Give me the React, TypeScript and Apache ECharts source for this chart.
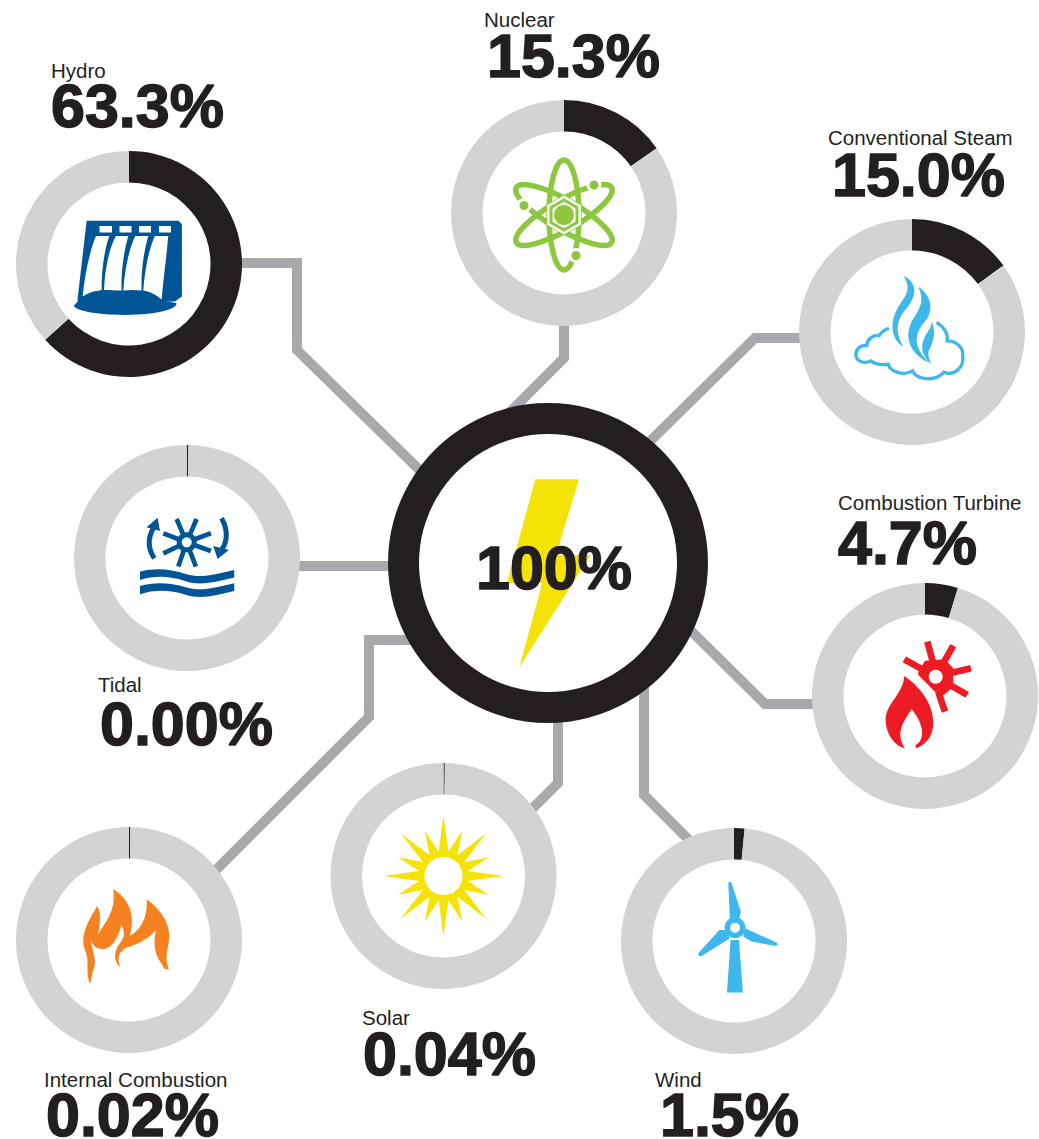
import React, { useEffect, useRef } from "react";
import * as echarts from "echarts";

const categories = ["Hydro", "Nuclear", "Conventional Steam", "Combustion Turbine", "Wind", "Solar", "Internal Combustion", "Tidal"];
const shares = [63.3, 15.3, 15.0, 4.7, 1.5, 0.04, 0.02, 0.0];
const remainders = [36.7, 84.7, 85.0, 95.3, 98.5, 99.96, 99.98, 100.0];
const valueLabels = ["63.3%", "15.3%", "15.0%", "4.7%", "1.5%", "0.04%", "0.02%", "0.00%"];
const totalShare = [100];
const totalLabel = "100%";

const INK = "#231f20";
const RING = "#d1d3d4";
const WIRE = "#a7a9ac";
const NAVY = "#005596";
const GREEN = "#8dc63f";
const SKY = "#3db7ec";
const RED = "#ed1c24";
const ORANGE = "#f58220";
const YELLOW = "#f5e206";

const donutCenters = [[129, 264], [564, 213], [912, 332], [925, 696], [734, 941], [443.5, 876], [129, 940], [187, 558]];
const labelPos = [[51, 70], [484, 19], [828, 137], [838, 502], [655, 1079], [362, 1017], [44, 1079], [98, 684]];
const valuePos = [[51, 106], [487, 56], [832, 175], [838, 543], [660, 1115], [363, 1054], [46, 1115], [100, 724]];

const wires = [
  [[240, 263], [297, 263], [297, 350], [440, 490]],
  [[564, 326], [564, 358], [495, 427]],
  [[802, 338], [755, 338], [635, 456]],
  [[815, 704], [765, 704], [680, 620]],
  [[644, 680], [644, 795], [705, 856]],
  [[558, 715], [558, 783], [520, 821]],
  [[415, 640], [369, 640], [369, 717], [200, 886]],
  [[295, 566], [400, 566]],
];

// icon outlines, drawn in a 3x space and placed with a scale of 1/3
const reg = (name: string, d: string) => echarts.graphic.registerShape(name, echarts.graphic.extendPath(d, {}));
reg("hydroBody", "M80,62 L355,62 L366,72 L366,290 L345,305 L52,305 Z");
reg("hydroFalls", "M108,108 L148,108 C130,160 125,220 125,270 C105,275 85,280 68,290 C75,220 90,150 108,108 Z M168,108 L205,108 C190,160 183,220 185,272 C170,272 150,270 132,270 C135,200 150,140 168,108 Z M226,108 L265,108 C250,160 243,220 245,272 C225,270 210,270 190,272 C195,200 210,140 226,108 Z M285,108 L325,108 C320,170 310,240 305,300 C290,285 270,275 250,272 C255,200 270,140 285,108 Z");
reg("hydroPool", "M42,316 C50,308 62,300 70,290 C85,278 105,272 122,274 C135,272 150,274 160,280 C170,272 190,270 215,280 C225,272 245,270 262,276 C280,282 295,290 310,302 L350,310 C352,325 300,345 195,345 C100,345 40,330 42,316 Z");
reg("steamCloud", "M147,190 C125,198 122,205 118,212 C100,208 82,222 80,242 C60,240 45,255 48,272 C50,290 75,298 92,288 C108,300 130,300 145,298 C150,320 190,335 218,318 C230,345 285,352 312,322 C345,335 375,305 368,270 C372,250 350,228 322,228 C325,205 310,185 290,172");
reg("steamFlames", "M190,32 C240,55 225,100 200,130 C175,160 160,190 190,245 C150,220 150,170 175,125 C200,90 215,70 190,32 Z M235,65 C280,95 280,140 255,170 C225,205 215,245 270,295 C215,270 190,225 215,170 C240,130 255,110 235,65 Z M275,168 C290,200 280,230 270,250 C260,265 268,285 275,297 C245,275 240,245 255,215 C265,195 275,190 275,168 Z");
reg("tidalSpokes", "M155,42 L185,112 L215,42 M115,85 L185,112 L258,85 M115,145 L185,112 L258,138 M160,185 L185,112 L213,185");
reg("tidalArcs", "M88,160 C68,130 68,100 85,70 M290,40 C310,75 308,110 290,135");
reg("tidalHeads", "M65,67 L98,38 L105,78 Z M265,123 L312,135 L278,162 Z");
reg("tidalWaves", "M45,200 C90,190 130,190 185,208 C230,222 280,205 328,195 L328,218 C280,228 230,245 185,230 C130,212 90,212 45,225 Z M45,243 C90,232 130,232 185,248 C230,262 280,245 328,235 L328,258 C280,268 230,285 185,270 C130,254 90,254 45,268 Z");
reg("turbineGear", "M145,125 L165,92 L225,88 L250,115 L250,170 L222,195 L205,195 L145,135 Z");
reg("turbineSpokes", "M172,35 L190,100 M250,47 L220,100 M303,115 L240,130 M292,195 L240,165 M225,245 L205,185 M103,88 L160,120");
reg("turbineFlame", "M103,138 C150,170 190,220 190,280 C190,320 165,345 140,355 C135,350 135,345 145,340 C165,320 160,280 125,238 C100,275 75,310 105,355 C75,350 45,310 47,265 C50,220 100,190 103,138 Z");
reg("windBlades", "M145,38 C150,34 153,36 155,40 L183,125 L178,145 L150,150 Z M195,175 L290,218 C295,224 293,228 287,228 L215,215 L190,200 Z M135,180 L118,180 L55,250 C55,258 60,261 65,258 L150,205 Z M152,210 L177,210 L189,368 L141,368 Z");
reg("fireShape", "M60,312 C45,280 60,240 45,210 C30,170 50,130 82,78 C95,105 90,125 85,165 C100,130 140,100 130,28 C170,50 200,100 180,168 C205,155 235,120 230,58 C275,90 305,135 297,185 C290,225 285,235 297,268 L285,268 C265,235 245,215 258,150 C235,180 195,195 165,205 C145,220 140,235 152,262 C130,245 130,215 150,190 C165,170 165,155 155,135 C140,190 115,210 95,207 C70,205 60,185 62,165 C60,200 85,240 70,270 C65,285 65,300 60,312 Z");

const t = (type: string, ox: number, oy: number, style: any, extra: any = {}) => ({ type, x: ox, y: oy, scaleX: 1 / 3, scaleY: 1 / 3, silent: true, style, ...extra });

const sunPoints = () => {
  const pts: number[][] = [];
  for (let i = 0; i < 32; i++) {
    const a = (i * Math.PI) / 16;
    const r = i % 2 === 1 ? 25 : i % 4 === 0 ? 60 : 49;
    pts.push([443.5 + r * Math.sin(a), 876 - r * Math.cos(a)]);
  }
  return pts;
};
const hexPoints = (cx: number, cy: number, r: number) => {
  const pts: number[][] = [];
  for (let i = 0; i < 6; i++) pts.push([cx + r * Math.sin((i * Math.PI) / 3), cy - r * Math.cos((i * Math.PI) / 3)]);
  return pts;
};

const circle = (cx: number, cy: number, r: number, fill: string) => ({ type: "circle", silent: true, shape: { cx, cy, r }, style: { fill } });
const rect = (x: number, y: number, width: number, height: number, fill: string) => ({ type: "rect", silent: true, shape: { x, y, width, height }, style: { fill } });

const icons: any[] = [
  // Hydro
  t("hydroBody", 60, 200, { fill: NAVY }),
  t("hydroFalls", 60, 200, { fill: "#fff" }),
  rect(99.5, 226, 12.5, 6.5, "#fff"),
  rect(119.5, 226, 12, 6.5, "#fff"),
  rect(139, 226, 12, 6.5, "#fff"),
  rect(159, 226, 12, 6.5, "#fff"),
  t("hydroPool", 60, 200, { fill: NAVY }),
  // Nuclear
  ...[0, Math.PI / 3, -Math.PI / 3].map((rotation) => ({
    type: "ellipse", silent: true, x: 564, y: 215, rotation,
    shape: { cx: 0, cy: 0, rx: 15, ry: 55 }, style: { fill: "none", stroke: GREEN, lineWidth: 5.5 },
  })),
  { type: "polygon", silent: true, shape: { points: hexPoints(564, 215, 19.5) }, style: { fill: "#fff" } },
  { type: "polygon", silent: true, shape: { points: hexPoints(564, 215, 15) }, style: { fill: "#fff", stroke: GREEN, lineWidth: 3 } },
  circle(564, 215, 10, GREEN),
  circle(524, 205.5, 7.5, "#fff"), circle(524, 205.5, 4.5, GREEN),
  circle(594, 185, 7.5, "#fff"), circle(594, 185, 4.5, GREEN),
  circle(576, 255.5, 7.5, "#fff"), circle(576, 255.5, 4.5, GREEN),
  // Conventional steam
  t("steamCloud", 840, 265, { fill: "#fff", stroke: SKY, lineWidth: 10 }),
  t("steamFlames", 840, 265, { fill: SKY }),
  // Tidal
  t("tidalSpokes", 125, 505, { fill: "none", stroke: NAVY, lineWidth: 14 }),
  circle(186.7, 542.3, 10, NAVY),
  circle(186.7, 542.3, 5, "#fff"),
  t("tidalArcs", 125, 505, { fill: "none", stroke: NAVY, lineWidth: 15 }),
  t("tidalHeads", 125, 505, { fill: NAVY }),
  t("tidalWaves", 125, 505, { fill: NAVY }),
  // Combustion turbine
  t("turbineSpokes", 870, 630, { fill: "none", stroke: RED, lineWidth: 20 }),
  t("turbineGear", 870, 630, { fill: RED }),
  circle(935.7, 676.7, 7, "#fff"),
  t("turbineFlame", 870, 630, { fill: RED }),
  // Wind
  t("windBlades", 680, 870, { fill: SKY }),
  circle(735, 927.7, 10.5, SKY),
  circle(735, 927.7, 5, "#fff"),
  // Solar
  { type: "polygon", silent: true, shape: { points: sunPoints() }, style: { fill: YELLOW } },
  circle(443.5, 876, 19, "#fff"),
  // Internal combustion
  t("fireShape", 70, 880, { fill: ORANGE }),
  // Centre bolt
  { type: "polygon", silent: true, shape: { points: [[535.3, 479.3], [579, 479.3], [556, 555], [590.7, 555], [519.3, 667.3], [542.3, 583], [507, 583]] }, style: { fill: YELLOW } },
];

const LABEL_FONT = '300 20.5px "Liberation Sans"';
const VALUE_FONT = 'bold 61px "Liberation Sans"';
const valueText = (text: string, x: number, y: number) => ({
  type: "text", silent: true, x, y,
  style: { text, font: VALUE_FONT, fill: INK, stroke: INK, lineWidth: 1.5, align: "left", verticalAlign: "middle" },
});
const texts: any[] = [
  ...categories.map((c, i) => ({
    type: "text", silent: true, x: labelPos[i][0], y: labelPos[i][1],
    style: { text: c, font: LABEL_FONT, fill: INK, align: "left", verticalAlign: "middle" },
  })),
  ...valueLabels.map((v, i) => valueText(v, valuePos[i][0], valuePos[i][1])),
  valueText(totalLabel, 476, 568),
];

export default function App() {
  const ref = useRef<HTMLDivElement>(null);
  useEffect(() => {
    document.body.style.margin = "0";
    const chart = echarts.init(ref.current!, undefined, { renderer: "svg" });
    const pies = categories.map((name, i) => ({
      type: "pie", name, z: 2, silent: true, animation: false,
      center: donutCenters[i], radius: [81.5, 113], startAngle: 90, clockwise: true,
      minAngle: 0.7, avoidLabelOverlap: false, label: { show: false }, labelLine: { show: false },
      data: [
        { name, value: shares[i], itemStyle: { color: INK } },
        { name: "Other", value: remainders[i], itemStyle: { color: RING } },
      ],
    }));
    chart.setOption({
      animation: false,
      backgroundColor: "#fff",
      series: [
        {
          type: "custom", coordinateSystem: "none", z: 1, silent: true,
          data: wires.map((_, i) => [i]),
          renderItem: (params: any) => ({
            type: "polyline",
            shape: { points: wires[params.dataIndex] },
            style: { fill: "none", stroke: WIRE, lineWidth: 10, lineJoin: "miter" },
          }),
        },
        ...pies,
        {
          type: "pie", name: "Total", z: 2, silent: true, animation: false,
          center: [548, 563], radius: [129, 160], startAngle: 90,
          label: { show: false }, labelLine: { show: false },
          data: [{ name: "Total", value: totalShare[0], itemStyle: { color: INK } }],
        },
      ],
      graphic: { z: 3, elements: [...icons, ...texts] },
    });
    return () => chart.dispose();
  }, []);
  return <div ref={ref} style={{ width: 1039, height: 1139 }} />;
}
